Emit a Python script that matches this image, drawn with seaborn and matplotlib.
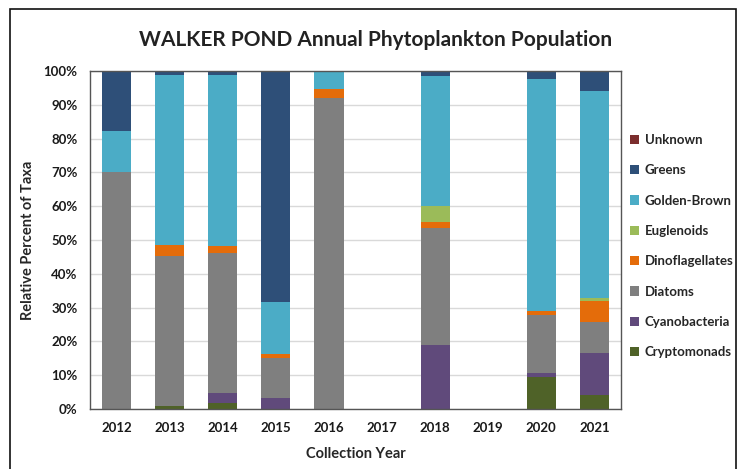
import numpy as np
import pandas as pd
import matplotlib
matplotlib.use("Agg")
import matplotlib.pyplot as plt
import seaborn as sns
from matplotlib.patches import Patch, Rectangle
from matplotlib.ticker import FuncFormatter

years = ["2012", "2013", "2014", "2015", "2016", "2017", "2018", "2019", "2020", "2021"]
taxa = ["Unknown", "Greens", "Golden-Brown", "Euglenoids", "Dinoflagellates",
        "Diatoms", "Cyanobacteria", "Cryptomonads"]

unknown         = [0, 0, 0, 0, 0, 0, 0, 0, 0, 0]
greens          = [17.7, 1.2, 1.2, 68.3, 0, 0, 1.5, 0, 2.5, 5.8]
golden_brown    = [12.3, 50.3, 50.5, 15.4, 5.3, 0, 38.4, 0, 68.6, 61.5]
euglenoids      = [0, 0, 0, 0, 0, 0, 4.8, 0, 0, 0.6]
dinoflagellates = [0, 3.2, 2.2, 1.2, 2.6, 0, 1.8, 0, 1.2, 6.5]
diatoms         = [70.0, 44.3, 41.5, 11.8, 92.1, 0, 34.6, 0, 17.1, 9.0]
cyanobacteria   = [0, 0, 2.8, 3.3, 0, 0, 18.9, 0, 1.2, 12.4]
cryptomonads    = [0, 1.0, 1.8, 0, 0, 0, 0, 0, 9.4, 4.2]

colors = ["#7B2D2D", "#2E4F78", "#4BACC6", "#9BBB59", "#E46C0A",
          "#7F7F7F", "#604A7B", "#4F6228"]

series = [unknown, greens, golden_brown, euglenoids, dinoflagellates,
          diatoms, cyanobacteria, cryptomonads]
rows = []
for t, vals in zip(taxa, series):
    for i, v in enumerate(vals):
        rows.append({"pos": i, "taxon": t, "value": v})
df = pd.DataFrame(rows)

sns.set_style("white")
plt.rcParams["font.family"] = ["Lato", "DejaVu Sans"]

fig = plt.figure(figsize=(7.49, 4.69), dpi=100)
ax = fig.add_axes([90/749, 60/469, 531/749, 338/469])

sns.histplot(data=df, x="pos", weights="value", hue="taxon", hue_order=taxa,
             palette=dict(zip(taxa, colors)), multiple="stack", discrete=True,
             shrink=0.55, alpha=1, linewidth=0, legend=False, ax=ax)

ax.set_xlim(-0.5, len(years) - 0.5)
ax.set_ylim(0, 100)
ax.set_yticks(np.arange(0, 101, 10))
ax.yaxis.set_major_formatter(FuncFormatter(lambda v, p: f"{int(v)}%"))
ax.set_xticks(range(len(years)))
ax.set_xticklabels(years)
ax.tick_params(axis="both", length=0, labelsize=9.5, pad=9)
for lab in ax.get_xticklabels() + ax.get_yticklabels():
    lab.set_fontweight("bold")
    lab.set_color("#1a1a1a")
ax.yaxis.grid(True, color="#D9D9D9", linewidth=1)
ax.set_axisbelow(True)
for s in ax.spines.values():
    s.set_visible(True)
    s.set_color("#555555")
    s.set_linewidth(1)

ax.set_xlabel("Collection Year", fontsize=10.5, fontweight="bold", labelpad=10)
ax.set_ylabel("Relative Percent of Taxa", fontsize=10.5, fontweight="bold", labelpad=6)
fig.text(376/749, 1 - 40/469, "WALKER POND Annual Phytoplankton Population",
         ha="center", va="center", fontsize=15, fontweight="bold", color="#222222")

handles = [Patch(facecolor=c, edgecolor="none", label=t) for t, c in zip(taxa, colors)]
fig.legend(handles=handles, loc="upper left", bbox_to_anchor=(630/749, 1 - 134/469),
           frameon=False, prop={"weight": "bold", "size": 9.5},
           handlelength=0.7, handleheight=0.7, handletextpad=0.4,
           labelspacing=1.39, borderpad=0, borderaxespad=0)

fig.patches.append(Rectangle((10/749, -0.01), 726/749, 1 - 9/469 + 0.01,
                             transform=fig.transFigure, fill=False,
                             edgecolor="#111111", linewidth=1.2))

fig.savefig("out.png", dpi=100)
